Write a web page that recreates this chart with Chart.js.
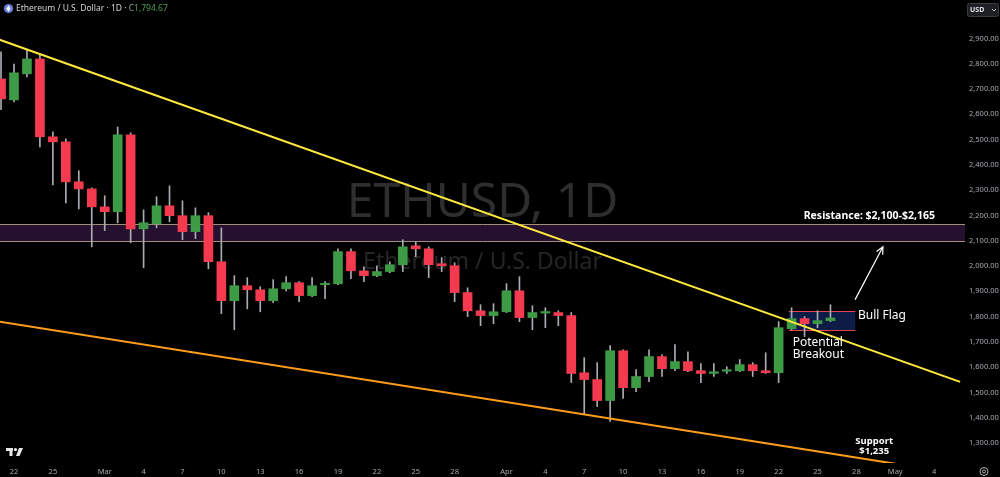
<!DOCTYPE html>
<html>
<head>
<meta charset="utf-8">
<script src="https://cdn.jsdelivr.net/npm/chart.js@4.4.1/dist/chart.umd.min.js"></script>
<style>
  html, body { margin: 0; padding: 0; background: #000; }
  #wrap { width: 1000px; height: 477px; }
</style>
</head>
<body>
<div id="wrap"><canvas id="chart" width="1000" height="477"></canvas></div>
<script>
style = {
  up: '#3d9a45',
  down: '#f33a4f',
  wick: '#a9acb3',
  axisText: '#a6a9b1',
  upperTrend: '#ffe93d',
  lowerTrend: '#ff9c1c',
  zoneFill: '#26102f',
  zoneEdge: '#a18e78',
  flagFill: '#0d1b47',
  flagEdge: '#e5414f',
  watermark: '#2e2e2e',
  watermarkSub: '#262626',
  font: "'Noto Sans', 'DejaVu Sans', sans-serif"
}

// daily candles, ETH / USD
const dates = [
  '2025-02-21', '2025-02-22', '2025-02-23', '2025-02-24', '2025-02-25', '2025-02-26', '2025-02-27', '2025-02-28',
  '2025-03-01', '2025-03-02', '2025-03-03', '2025-03-04', '2025-03-05', '2025-03-06', '2025-03-07', '2025-03-08',
  '2025-03-09', '2025-03-10', '2025-03-11', '2025-03-12', '2025-03-13', '2025-03-14', '2025-03-15', '2025-03-16',
  '2025-03-17', '2025-03-18', '2025-03-19', '2025-03-20', '2025-03-21', '2025-03-22', '2025-03-23', '2025-03-24',
  '2025-03-25', '2025-03-26', '2025-03-27', '2025-03-28', '2025-03-29', '2025-03-30', '2025-03-31',
  '2025-04-01', '2025-04-02', '2025-04-03', '2025-04-04', '2025-04-05', '2025-04-06', '2025-04-07', '2025-04-08',
  '2025-04-09', '2025-04-10', '2025-04-11', '2025-04-12', '2025-04-13', '2025-04-14', '2025-04-15', '2025-04-16',
  '2025-04-17', '2025-04-18', '2025-04-19', '2025-04-20', '2025-04-21', '2025-04-22', '2025-04-23', '2025-04-24',
  '2025-04-25', '2025-04-26'
];
const open = [
  2740, 2657, 2760, 2819, 2511, 2491, 2333, 2305,
  2234, 2215, 2519, 2147, 2167, 2238, 2199, 2136,
  2199, 2017, 1863, 1922, 1906, 1863, 1910, 1934,
  1883, 1926, 1930, 2057, 1981, 1962, 1978, 2005,
  2080, 2068, 2009, 2001, 1895, 1823, 1804,
  1819, 1902, 1796, 1814, 1816, 1804, 1578, 1551,
  1468, 1665, 1519, 1563, 1642, 1594, 1622, 1586,
  1575, 1584, 1586, 1610, 1586, 1578, 1752, 1792,
  1772, 1784
];
const high = [
  2847, 2799, 2855, 2835, 2531, 2503, 2377, 2309,
  2278, 2550, 2527, 2222, 2274, 2317, 2258, 2230,
  2211, 2151, 1962, 1954, 1918, 1946, 1958, 1938,
  1954, 1938, 2068, 2068, 1997, 2001, 2017, 2104,
  2096, 2076, 2033, 2013, 1914, 1847, 1851,
  1930, 1958, 1843, 1835, 1823, 1816, 1638, 1618,
  1685, 1669, 1590, 1669, 1650, 1689, 1661, 1614,
  1614, 1602, 1630, 1618, 1657, 1780, 1835, 1800,
  1823, 1847
];
const low = [
  2618, 2649, 2748, 2471, 2321, 2250, 2226, 2076,
  2140, 2171, 2092, 1993, 2151, 2175, 2104, 2108,
  1989, 1812, 1748, 1831, 1819, 1855, 1902, 1859,
  1879, 1871, 1926, 1950, 1938, 1958, 1974, 1978,
  2037, 1954, 1978, 1859, 1800, 1764, 1772,
  1816, 1780, 1748, 1756, 1764, 1539, 1413, 1444,
  1385, 1476, 1503, 1543, 1563, 1586, 1582, 1539,
  1563, 1575, 1582, 1563, 1575, 1539, 1748, 1721,
  1756, 1780
];
const close = [
  2661, 2764, 2819, 2511, 2491, 2333, 2305, 2234,
  2215, 2519, 2147, 2171, 2238, 2199, 2136, 2199,
  2017, 1863, 1922, 1906, 1863, 1910, 1934, 1883,
  1922, 1930, 2057, 1981, 1962, 1978, 2005, 2076,
  2068, 2005, 2001, 1895, 1823, 1804, 1819,
  1902, 1796, 1816, 1816, 1804, 1575, 1551, 1468,
  1665, 1519, 1563, 1642, 1594, 1622, 1586, 1575,
  1582, 1586, 1610, 1586, 1578, 1756, 1792, 1772,
  1784, 1794.67
];

// axes
const tickDates = [
  '2025-02-22', '2025-02-25', '2025-03-01', '2025-03-04', '2025-03-07', '2025-03-10', '2025-03-13', '2025-03-16',
  '2025-03-19', '2025-03-22', '2025-03-25', '2025-03-28', '2025-04-01', '2025-04-04', '2025-04-07', '2025-04-10',
  '2025-04-13', '2025-04-16', '2025-04-19', '2025-04-22', '2025-04-25', '2025-04-28', '2025-05-01', '2025-05-04'
];
const monthNames = ['Jan', 'Feb', 'Mar', 'Apr', 'May'];
const priceTicks = [1300, 1400, 1500, 1600, 1700, 1800, 1900, 2000, 2100, 2200, 2300, 2400, 2500, 2600, 2700, 2800, 2900];
const viewDates = ['2025-02-20 22:05', '2025-05-06 09:07'];
const viewPrices = [1221, 3052];

// drawings
const upperTrend = [['2025-02-20', 2911], ['2025-05-06', 1542]];
const lowerTrend = [['2025-02-20', 1787], ['2025-05-01', 1218]];
const resistanceZone = [2100, 2165];
const flagBox = ['2025-04-22 19:00', '2025-04-27 22:00', 1748, 1823];
const arrow = [['2025-04-27 21:36', 1867], ['2025-04-30 01:12', 2076]];

const dayNum = (s) => {
  const iso = s.length === 10 ? s + 'T00:00:00Z' : s.replace(' ', 'T') + ':00Z';
  return (Date.parse(iso) - Date.parse('2025-02-22T00:00:00Z')) / 864e5;
};
const isUp = (i) => close[i] >= open[i];
const fmt = (v) => v.toLocaleString('en-US', { minimumFractionDigits: 2, maximumFractionDigits: 2 });

const wickData = dates.map((d, i) => ({ x: dayNum(d), y: [low[i], high[i]] }));
const bodyData = dates.map((d, i) => ({ x: dayNum(d), y: [open[i], close[i]] }));

const drawings = {
  id: 'drawings',
  beforeDatasetsDraw(chart) {
    const { ctx, chartArea: a, scales: { x, y } } = chart;
    ctx.save();

    // watermark
    const cx = (a.left + a.right) / 2, cy = (a.top + a.bottom) / 2;
    ctx.textAlign = 'center';
    ctx.textBaseline = 'middle';
    ctx.fillStyle = style.watermark;
    ctx.font = `48px ${style.font}`;
    ctx.fillText('ETHUSD, 1D', cx, cy - 28);
    ctx.fillStyle = style.watermarkSub;
    ctx.font = `23px ${style.font}`;
    ctx.fillText('Ethereum / U.S. Dollar', cx, cy + 31);

    // resistance zone
    const zt = Math.round(y.getPixelForValue(resistanceZone[1])) + 0.5;
    const zb = Math.round(y.getPixelForValue(resistanceZone[0])) + 0.5;
    ctx.fillStyle = style.zoneFill;
    ctx.fillRect(a.left, zt, a.right - a.left, zb - zt);
    ctx.strokeStyle = style.zoneEdge;
    ctx.lineWidth = 1;
    ctx.beginPath();
    ctx.moveTo(a.left, zt); ctx.lineTo(a.right, zt);
    ctx.moveTo(a.left, zb); ctx.lineTo(a.right, zb);
    ctx.stroke();

    // bull flag box
    const fl = x.getPixelForValue(dayNum(flagBox[0])), fr = x.getPixelForValue(dayNum(flagBox[1]));
    const ft = Math.round(y.getPixelForValue(flagBox[3])) + 0.5, fb = Math.round(y.getPixelForValue(flagBox[2])) + 0.5;
    ctx.fillStyle = style.flagFill;
    ctx.fillRect(fl, ft, fr - fl, fb - ft);
    ctx.strokeStyle = style.flagEdge;
    ctx.beginPath();
    ctx.moveTo(fl, ft); ctx.lineTo(fr, ft);
    ctx.moveTo(fl, fb); ctx.lineTo(fr, fb);
    ctx.stroke();
    ctx.restore();
  },
  afterDatasetsDraw(chart) {
    const { ctx, scales: { x, y } } = chart;
    const at = (d, p) => [x.getPixelForValue(dayNum(d)), y.getPixelForValue(p)];
    ctx.save();
    ctx.fillStyle = '#ffffff';
    ctx.textBaseline = 'middle';

    ctx.textAlign = 'center';
    ctx.font = `bold 10.5px ${style.font}`;
    ctx.fillText('Resistance: $2,100-$2,165', ...at('2025-04-29', 2199));

    ctx.textAlign = 'left';
    ctx.font = `12px ${style.font}`;
    ctx.fillText('Bull Flag', ...at('2025-04-28 03:00', 1804));
    ctx.fillText('Potential', ...at('2025-04-23 02:00', 1697));
    ctx.fillText('Breakout', ...at('2025-04-23 02:00', 1650));

    ctx.textAlign = 'center';
    ctx.font = `bold 9.5px ${style.font}`;
    ctx.fillText('Support', ...at('2025-04-29 09:00', 1306));
    ctx.fillText('$1,235', ...at('2025-04-29 09:00', 1266));

    // arrow to resistance
    const [x0, y0] = at(...arrow[0]);
    const [x1, y1] = at(...arrow[1]);
    const ang = Math.atan2(y1 - y0, x1 - x0);
    ctx.strokeStyle = '#ffffff';
    ctx.lineWidth = 1.2;
    ctx.beginPath();
    ctx.moveTo(x0, y0); ctx.lineTo(x1, y1);
    ctx.moveTo(x1 - 8 * Math.cos(ang - 0.45), y1 - 8 * Math.sin(ang - 0.45));
    ctx.lineTo(x1, y1);
    ctx.lineTo(x1 - 8 * Math.cos(ang + 0.45), y1 - 8 * Math.sin(ang + 0.45));
    ctx.stroke();
    ctx.restore();
  },
  afterDraw(chart) {
    const { ctx } = chart;
    ctx.save();

    // symbol header
    ctx.fillStyle = '#6a7fd8';
    ctx.beginPath(); ctx.arc(8.5, 8.5, 4.6, 0, Math.PI * 2); ctx.fill();
    ctx.fillStyle = '#ffffff';
    ctx.beginPath();
    ctx.moveTo(8.5, 5.3); ctx.lineTo(10.6, 8.7); ctx.lineTo(8.5, 11.8); ctx.lineTo(6.4, 8.7); ctx.closePath();
    ctx.fill();
    ctx.font = `8.5px ${style.font}`;
    ctx.textBaseline = 'middle';
    ctx.textAlign = 'left';
    ctx.fillStyle = '#d1d4dc';
    const head = 'Ethereum / U.S. Dollar · 1D · ';
    ctx.fillText(head, 16, 9);
    let hx = 16 + ctx.measureText(head).width;
    ctx.fillStyle = '#9a9da5';
    ctx.fillText('C', hx, 9);
    hx += ctx.measureText('C').width;
    ctx.fillStyle = '#45a04c';
    ctx.fillText(fmt(close[close.length - 1]), hx, 9);

    // currency button
    ctx.fillStyle = '#1e1f22';
    ctx.strokeStyle = '#3c3d41';
    ctx.lineWidth = 1;
    ctx.beginPath(); ctx.roundRect(967.5, 3.5, 31, 13, 2); ctx.fill(); ctx.stroke();
    ctx.fillStyle = '#e0e2e8';
    ctx.font = `bold 7px ${style.font}`;
    ctx.fillText('USD', 970, 10);
    ctx.strokeStyle = '#c0c2c8';
    ctx.beginPath(); ctx.moveTo(992, 9); ctx.lineTo(994, 11); ctx.lineTo(996, 9); ctx.stroke();

    // logo
    ctx.fillStyle = '#e8e8e8';
    ctx.fillRect(6, 448, 7, 3);
    ctx.fillRect(9.5, 448, 3, 8);
    ctx.beginPath(); ctx.arc(15.5, 449.6, 1.6, 0, Math.PI * 2); ctx.fill();
    ctx.beginPath();
    ctx.moveTo(19, 448); ctx.lineTo(23, 448); ctx.lineTo(19.5, 456); ctx.lineTo(16, 456); ctx.closePath(); ctx.fill();

    // settings icon
    ctx.strokeStyle = '#b2b5be';
    ctx.lineWidth = 1;
    ctx.beginPath(); ctx.arc(984, 471.5, 4, 0, Math.PI * 2); ctx.stroke();
    ctx.beginPath(); ctx.arc(984, 471.5, 1.5, 0, Math.PI * 2); ctx.stroke();
    ctx.restore();
  }
};

const config = {
  data: {
    datasets: [{
      type: 'line',
      data: upperTrend.map(([d, p]) => ({ x: dayNum(d), y: p })),
      borderColor: style.upperTrend,
      borderWidth: 2,
      pointRadius: 0,
      order: 0
    }, {
      type: 'line',
      data: lowerTrend.map(([d, p]) => ({ x: dayNum(d), y: p })),
      borderColor: style.lowerTrend,
      borderWidth: 2,
      pointRadius: 0,
      order: 0
    }, {
      type: 'bar',
      data: bodyData,
      backgroundColor: (c) => isUp(c.dataIndex) ? style.up : style.down,
      barThickness: 9,
      minBarLength: 1.5,
      grouped: false,
      order: 1
    }, {
      type: 'bar',
      data: wickData,
      backgroundColor: style.wick,
      barThickness: 1,
      grouped: false,
      order: 2
    }]
  },
  options: {
    responsive: false,
    devicePixelRatio: 1,
    animation: false,
    layout: { padding: 0 },
    plugins: {
      legend: { display: false },
      tooltip: { enabled: false }
    },
    scales: {
      x: {
        type: 'linear',
        offset: false,
        min: dayNum(viewDates[0]),
        max: dayNum(viewDates[1]),
        grid: { display: false, drawTicks: false },
        border: { display: false },
        ticks: {
          autoSkip: false,
          maxRotation: 0,
          padding: 4,
          color: style.axisText,
          font: { family: style.font, size: 7.5 },
          callback: (v, i) => {
            const [yy, m, dd] = tickDates[i].split('-').map(Number);
            return dd === 1 ? monthNames[m - 1] : String(dd);
          }
        },
        afterBuildTicks: (scale) => { scale.ticks = tickDates.map(d => ({ value: dayNum(d) })); },
        afterFit: (scale) => { scale.height = 14; scale.paddingLeft = 0; scale.paddingRight = 0; }
      },
      y: {
        type: 'linear',
        position: 'right',
        min: viewPrices[0],
        max: viewPrices[1],
        grid: { display: false, drawTicks: false },
        border: { display: false },
        ticks: {
          padding: 4,
          color: style.axisText,
          font: { family: style.font, size: 7.5 },
          callback: (v) => fmt(v)
        },
        afterBuildTicks: (scale) => { scale.ticks = priceTicks.map(v => ({ value: v })); },
        afterFit: (scale) => { scale.width = 35; scale.paddingTop = 0; scale.paddingBottom = 0; }
      }
    }
  },
  plugins: [drawings]
};

const chart = new Chart(document.getElementById('chart'), config);
</script>
</body>
</html>
